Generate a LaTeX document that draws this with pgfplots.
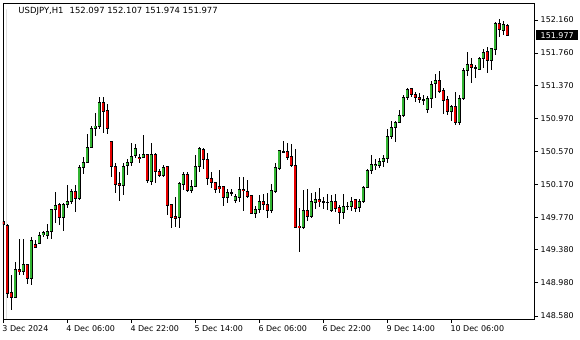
\documentclass[border=0pt]{standalone}
\usepackage{pgfplots}
\usepackage{pgfplotstable}
\pgfplotsset{compat=1.18}
\usepackage{fontspec}
\setmainfont{DejaVu Sans}
\definecolor{bull}{RGB}{50,180,50}
\definecolor{bear}{RGB}{230,0,0}
\pgfplotstableread{
i O H L C
3 148.810 149.237 148.798 149.145
5 149.116 149.515 149.076 149.209
7 149.033 149.539 148.957 149.499
9 149.459 149.600 149.451 149.560
10 149.563 149.611 149.539 149.588
11 149.560 149.689 149.514 149.608
12 149.600 149.880 149.514 149.874
13 149.871 150.083 149.702 149.923
15 149.769 149.943 149.611 149.931
16 149.931 150.164 149.890 149.971
17 149.962 150.112 149.931 150.092
19 150.004 150.406 149.983 150.379
20 150.379 150.507 150.297 150.434
21 150.434 150.781 150.427 150.620
22 150.620 150.878 150.608 150.850
23 150.850 151.032 150.761 150.878
24 150.878 151.225 150.842 151.165
30 150.161 150.427 150.043 150.394
31 150.398 150.475 150.285 150.439
32 150.434 150.669 150.394 150.515
33 150.515 150.657 150.487 150.608
35 150.499 150.769 150.487 150.539
37 150.204 150.669 150.164 150.539
40 150.277 150.406 150.265 150.379
44 149.769 150.204 149.641 150.177
45 150.173 150.325 150.104 150.297
47 150.104 150.225 150.064 150.152
48 150.152 150.527 150.144 150.394
49 150.394 150.628 150.325 150.608
56 150.011 150.116 149.943 150.076
57 150.064 150.112 150.031 150.076
58 149.975 150.052 149.943 150.028
59 150.011 150.265 149.962 150.112
63 149.822 149.910 149.762 149.871
64 149.871 150.043 149.822 149.971
67 149.854 150.177 149.822 150.092
68 150.092 150.427 150.064 150.374
69 150.358 150.588 150.346 150.576
70 150.567 150.697 150.548 150.572
75 149.648 150.104 149.632 149.862
77 149.781 150.064 149.769 149.962
78 149.955 150.083 149.874 149.995
82 149.854 150.043 149.841 149.962
85 149.834 150.052 149.750 149.910
87 149.902 150.023 149.850 149.971
89 149.890 149.995 149.841 149.971
90 149.962 150.152 149.943 150.137
91 150.137 150.354 150.125 150.346
92 150.337 150.527 150.297 150.415
93 150.398 150.479 150.346 150.414
94 150.406 150.487 150.366 150.455
95 150.446 150.527 150.386 150.487
96 150.487 150.838 150.434 150.757
97 150.749 150.939 150.717 150.862
98 150.857 150.939 150.688 150.923
99 150.918 151.072 150.911 151.011
100 151.011 151.253 150.991 151.225
101 151.225 151.334 151.193 151.326
106 151.080 151.241 151.039 151.213
107 151.213 151.426 151.092 151.386
108 151.386 151.503 151.213 151.434
112 151.051 151.132 150.939 151.111
114 150.918 151.253 150.890 151.213
115 151.213 151.576 151.193 151.555
116 151.547 151.769 151.486 151.628
118 151.580 151.616 151.455 151.590
119 151.567 151.716 151.555 151.697
120 151.697 151.806 151.576 151.769
122 151.668 151.825 151.555 151.818
123 151.809 152.140 151.737 152.120
125 152.031 152.148 151.979 152.112
}\upbars
\pgfplotstableread{
i O H L C
0 149.721 149.874 149.588 149.681
1 149.681 149.689 148.798 148.858
2 148.865 149.076 148.653 148.810
4 149.145 149.515 149.076 149.116
6 149.209 149.215 148.970 149.033
8 149.451 149.499 149.399 149.406
14 149.923 149.943 149.681 149.769
18 150.092 150.164 149.841 150.004
25 151.165 151.225 150.790 151.051
26 151.072 151.140 150.781 150.850
27 150.697 150.700 150.265 150.386
28 150.394 150.427 150.064 150.173
29 150.185 150.325 149.975 150.161
34 150.499 150.539 150.427 150.483
36 150.539 150.545 150.185 150.216
38 150.539 150.548 150.185 150.325
39 150.334 150.354 150.265 150.277
41 150.394 150.400 149.802 149.914
42 149.931 149.935 149.648 149.769
43 149.781 150.023 149.653 149.765
46 150.297 150.325 150.083 150.104
50 150.596 150.616 150.354 150.475
51 150.475 150.548 150.164 150.245
52 150.245 150.325 150.125 150.197
53 150.197 150.204 150.064 150.116
54 150.144 150.346 150.064 150.116
55 150.152 150.158 149.914 150.011
60 150.112 150.265 149.854 150.095
61 150.092 150.225 150.004 150.031
62 150.040 150.045 149.810 149.822
65 149.971 150.052 149.862 149.931
66 149.935 150.071 149.769 149.854
71 150.576 150.669 150.467 150.495
72 150.515 150.657 150.386 150.398
73 150.406 150.600 149.640 149.648
74 149.669 149.883 149.358 149.648
76 149.862 150.112 149.729 149.781
79 149.991 150.132 149.902 149.962
80 149.967 150.023 149.871 149.955
81 149.957 150.052 149.862 149.953
83 149.962 150.052 149.834 149.883
84 149.890 149.923 149.693 149.834
86 149.910 149.962 149.862 149.904
88 149.983 149.995 149.834 149.883
102 151.326 151.334 151.225 151.253
103 151.265 151.293 151.172 151.225
104 151.225 151.274 151.160 151.201
105 151.201 151.253 151.132 151.190
109 151.434 151.543 151.274 151.293
110 151.305 151.334 151.020 151.184
111 151.193 151.241 151.011 151.051
113 151.111 151.293 150.890 150.918
117 151.628 151.697 151.402 151.588
121 151.785 151.830 151.515 151.668
124 152.120 152.169 151.958 152.048
126 152.097 152.107 151.974 151.977
}\downbars
\pgfplotsset{
  wick/.style={draw=none, mark=none, forget plot,
    error bars/.cd, y dir=both, y explicit, error mark=none,
    error bar style={draw=black, line width=0.9bp}},
  bodyout/.style={draw=none, mark=none, forget plot,
    error bars/.cd, y dir=both, y explicit, error mark=none,
    error bar style={draw=black, line width=3.4bp}},
  bodyin/.style={draw=none, mark=none, forget plot,
    error bars/.cd, y dir=both, y explicit, error mark=none,
    error bar style={draw=#1, line width=1.7bp}},
}
\begin{document}
\begin{tikzpicture}
\path[use as bounding box] (-3bp,-21bp) rectangle (577bp,319bp);
\begin{axis}[
  at={(0,0)}, anchor=south west,
  scale only axis, width=531bp, height=316bp,
  xmin=-0.075, xmax=132.675,
  ymin=148.5437, ymax=152.3656,
  axis line style={black, line width=0.9bp},
  tick align=outside, major tick length=4bp,
  tick style={black, line width=0.9bp},
  xtick pos=bottom, ytick pos=right, yticklabel pos=right,
  xtick={0,16,32,48,64,80,96,112},
  xticklabels={3 Dec 2024,4 Dec 06:00,4 Dec 22:00,5 Dec 14:00,6 Dec 06:00,6 Dec 22:00,9 Dec 14:00,10 Dec 06:00},
  ytick={148.580,148.980,149.380,149.770,150.170,150.570,150.970,151.370,151.760,152.160},
  yticklabels={148.580,148.980,149.380,149.770,150.170,150.570,150.970,151.370,151.760,152.160},
  tick label style={font=\fontsize{8}{9}\selectfont, black},
  xticklabel style={anchor=north west, inner sep=0pt, xshift=-1bp, yshift=-2bp},
  yticklabel style={anchor=west, inner sep=0pt, xshift=2.5bp},
  /pgf/number format/assume math mode=true,
  clip=true,
]
% wicks
\addplot[wick] table[x=i, y expr={(\thisrow{H}+\thisrow{L})/2}, y error expr={(\thisrow{H}-\thisrow{L})/2}] {\upbars};
\addplot[wick] table[x=i, y expr={(\thisrow{H}+\thisrow{L})/2}, y error expr={(\thisrow{H}-\thisrow{L})/2}] {\downbars};
% bodies outline
\addplot[bodyout] table[x=i, y expr={(\thisrow{O}+\thisrow{C})/2}, y error expr={abs(\thisrow{C}-\thisrow{O})/2+0.006}] {\upbars};
\addplot[bodyout] table[x=i, y expr={(\thisrow{O}+\thisrow{C})/2}, y error expr={abs(\thisrow{C}-\thisrow{O})/2+0.006}] {\downbars};
% bodies fill
\addplot[bodyin=bull] table[x=i, y expr={(\thisrow{O}+\thisrow{C})/2}, y error expr={max(abs(\thisrow{C}-\thisrow{O})/2-0.006,0)}] {\upbars};
\addplot[bodyin=bear] table[x=i, y expr={(\thisrow{O}+\thisrow{C})/2}, y error expr={max(abs(\thisrow{C}-\thisrow{O})/2-0.006,0)}] {\downbars};
\fill[black] ([xshift=3bp,yshift=-6.3bp]rel axis cs:0,1) -- ++(6.7bp,0) -- ++(-3.35bp,-3.6bp) -- cycle;
\node[anchor=base west, inner sep=0pt, font=\fontsize{8.5}{9}\selectfont] at ([xshift=15.3bp,yshift=-11bp]rel axis cs:0,1) {USDJPY,H1\hspace{6bp}152.097 152.107 151.974 151.977};
\end{axis}
\node[anchor=west, fill=black, text=white, inner xsep=4.5bp, inner ysep=2bp, text height=6bp, text depth=0bp, font=\fontsize{8}{9}\selectfont] at (533bp,283.9bp) {151.977};
\end{tikzpicture}
\end{document}
